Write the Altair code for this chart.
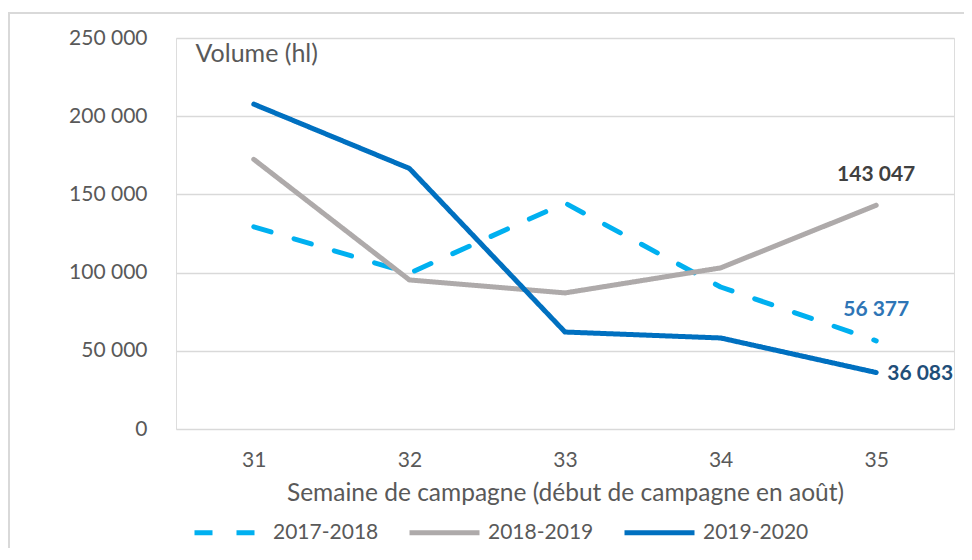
import altair as alt
import pandas as pd

# ---- data ----
weeks = [31, 32, 33, 34, 35]
series_names = ["2017-2018", "2018-2019", "2019-2020"]
vals_2017_2018 = [129300, 99600, 144500, 90800, 56377]
vals_2018_2019 = [172400, 95300, 87000, 103000, 143047]
vals_2019_2020 = [207700, 166600, 62000, 58200, 36083]
line_colors = ["#00B0F0", "#AEAAAA", "#0070C0"]
label_colors = ["#2E75B6", "#404040", "#1F4E79"]
y_ticks = [0, 50000, 100000, 150000, 200000, 250000]
x_title = "Semaine de campagne (début de campagne en août)"
y_title = "Volume (hl)"

rows = []
for name, vals in zip(series_names, [vals_2017_2018, vals_2018_2019, vals_2019_2020]):
    for w, v in zip(weeks, vals):
        rows.append({"week": w, "value": v, "series": name})
df = pd.DataFrame(rows)

FONT = "Lato"
GREY_TXT = "#595959"
W, H = 778, 391

x_enc = alt.X(
    "week:O",
    scale=alt.Scale(type="point", padding=0.5),
    axis=alt.Axis(
        title=x_title, labelAngle=0, domain=False, ticks=False, grid=False,
        labelFont=FONT, labelFontSize=21, labelColor=GREY_TXT, labelPadding=20,
        titleFont=FONT, titleFontSize=24.5, titleFontWeight="normal", titleColor=GREY_TXT,
        titlePadding=11,
    ),
)
y_enc = alt.Y(
    "value:Q",
    scale=alt.Scale(domain=[0, 250000], nice=False),
    axis=alt.Axis(
        values=y_ticks, domain=False, ticks=False,
        gridColor="#D9D9D9", gridWidth=1.5,
        labelExpr="replace(format(datum.value, ','), ',', ' ')",
        labelFont=FONT, labelFontSize=21, labelColor=GREY_TXT, labelPadding=29,
        title=y_title, titleAngle=0, titleX=19, titleY=15, titleAlign="left",
        titleBaseline="middle", titleFont=FONT, titleFontSize=25,
        titleFontWeight="normal", titleColor=GREY_TXT,
    ),
)

legend_def = dict(
    title=None, orient="none", legendX=16, legendY=457, direction="horizontal",
    columns=3, columnPadding=20, padding=0,
    symbolType="stroke", symbolSize=4900, symbolStrokeWidth=5,
    labelFont=FONT, labelFontSize=21, labelColor=GREY_TXT, labelOffset=6,
)

lines = alt.Chart(df).mark_line(strokeWidth=5, strokeCap="round", strokeJoin="round").encode(
    x=x_enc,
    y=y_enc,
    color=alt.Color(
        "series:N",
        scale=alt.Scale(domain=series_names, range=line_colors),
        legend=alt.Legend(**legend_def),
    ),
    strokeDash=alt.StrokeDash(
        "series:N",
        scale=alt.Scale(domain=series_names, range=[[18, 24], [1, 0], [1, 0]]),
        legend=alt.Legend(**legend_def),
    ),
)

last = df[df["week"] == weeks[-1]]


def end_label(name, color, **kw):
    return alt.Chart(last[last["series"] == name]).mark_text(
        font=FONT, fontSize=21, fontWeight="bold", color=color, baseline="middle", **kw
    ).transform_calculate(
        lbl="replace(format(datum.value, ','), ',', ' ')"
    ).encode(x=alt.X("week:O"), y=alt.Y("value:Q"), text="lbl:N")


lab1 = end_label(series_names[0], label_colors[0], align="center", dy=-31)
lab2 = end_label(series_names[1], label_colors[1], align="center", dy=-30)
lab3 = end_label(series_names[2], label_colors[2], align="left", dx=11, dy=1)

frame = alt.Chart(pd.DataFrame({"f": [0]})).mark_rect(
    filled=False, stroke="#D9D9D9", strokeWidth=2
).encode(
    x=alt.value(-167), x2=alt.value(820), y=alt.value(-25), y2=alt.value(560)
)

chart = alt.layer(frame, lines, lab1, lab2, lab3).properties(
    width=W, height=H,
    autosize=alt.AutoSizeParams(type="none"),
    padding={"left": 168, "top": 30, "right": 10, "bottom": 119},
).configure_view(stroke=None).configure(background="white")

chart.save("out.html", embed_options={"renderer": "svg", "actions": False})
